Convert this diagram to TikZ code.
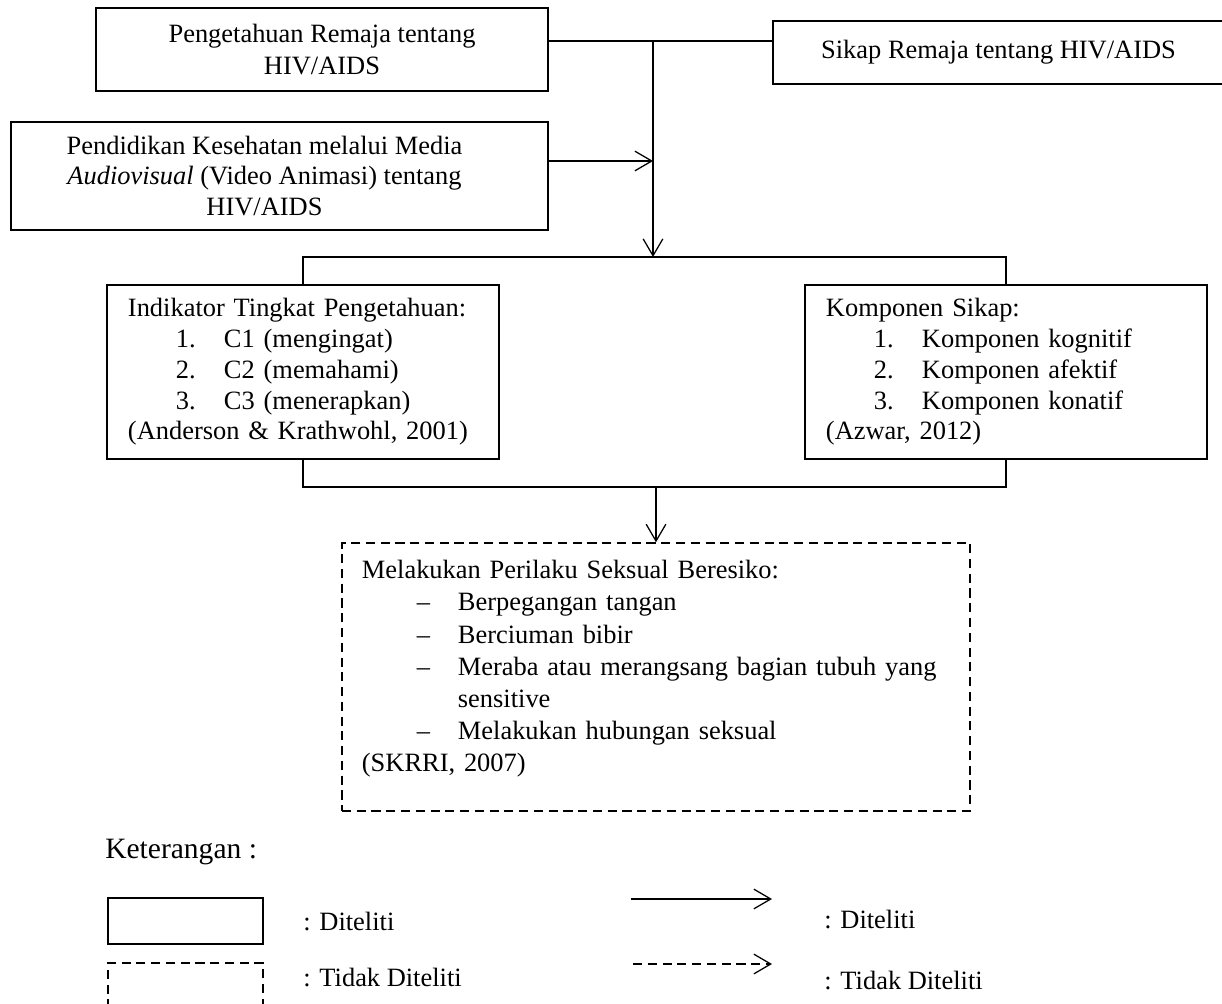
\documentclass[tikz,border=0pt]{standalone}
\usepackage{fontspec}
\setmainfont{Liberation Serif}
\usetikzlibrary{arrows.meta, positioning}

\newcommand{\numitem}[2]{\hspace*{1.2cm}\makebox[1.2cm][l]{#1}#2}
\newcommand{\dashitem}[1]{\hspace*{1.375cm}\makebox[1.025cm][l]{\textendash}#1}
\newcommand{\lpad}{\rule{0.75cm}{0pt}}

\begin{document}
\begin{tikzpicture}[x=0.025cm, y=-0.025cm,
    box/.style={rectangle, draw, line width=0.9pt, inner sep=0pt, align=center, font=\fontsize{18.8pt}{21.9pt}\selectfont},
    listbox/.style={box, align=left},
    nobox/.style={listbox, dash pattern=on 6.5pt off 4pt},
    legtext/.style={anchor=west, inner sep=0pt, font=\fontsize{18.8pt}{21.9pt}\selectfont},
    arrow/.style={-{Straight Barb[length=12pt,width=14pt]}, line width=0.9pt},
    link/.style={line width=0.9pt}
]
    \useasboundingbox (0,0) rectangle (1222,1004);
    \fill[white] (0,0) rectangle (1222,1004);

    \node[box, minimum width=11.3cm, minimum height=2.075cm, font=\fontsize{18.8pt}{22.4pt}\selectfont] (pengetahuan) at (322,49.5) {Pengetahuan Remaja tentang\\HIV/AIDS};
    \node[box, minimum width=13.425cm, minimum height=2.7cm] (pendidikan) at (279.5,176) {Pendidikan Kesehatan melalui Media\lpad\\\textit{Audiovisual} (Video Animasi) tentang\lpad\\HIV/AIDS\lpad};
    \node[box, minimum width=11.275cm, minimum height=1.575cm] (sikap) at (998.5,52.5) {Sikap Remaja tentang HIV/AIDS};

    \node[listbox, text width=8.75cm, minimum width=9.8cm, minimum height=4.35cm] (indikator) at (303,372) {Indikator Tingkat Pengetahuan:\\
        \numitem{1.}{C1 (mengingat)}\\
        \numitem{2.}{C2 (memahami)}\\
        \numitem{3.}{C3 (menerapkan)}\\
        (Anderson \& Krathwohl, 2001)};
    \node[listbox, text width=9cm, minimum width=10.05cm, minimum height=4.35cm] (komponen) at (1006,372) {Komponen Sikap:\\
        \numitem{1.}{Komponen kognitif}\\
        \numitem{2.}{Komponen afektif}\\
        \numitem{3.}{Komponen konatif}\\
        (Azwar, 2012)};
    \node[nobox, text width=14.7cm, minimum width=15.7cm, minimum height=6.7cm, font=\fontsize{18.8pt}{22.8pt}\selectfont] (perilaku) at (656,677) {Melakukan Perilaku Seksual Beresiko:\\
        \dashitem{Berpegangan tangan}\\
        \dashitem{Berciuman bibir}\\
        \dashitem{Meraba atau merangsang bagian tubuh yang}\\
        \hspace*{2.4cm}sensitive\\
        \dashitem{Melakukan hubungan seksual}\\
        (SKRRI, 2007)\\[-7pt]
        \mbox{}};

    % junctions
    \coordinate (j1) at (653,41);
    \coordinate (j2) at (653,161);
    \coordinate (j3) at (653,257);
    \coordinate (j4) at (656,487);

    \draw[link] (pengetahuan.east |- j1) -- (sikap.west |- j1);
    \draw[arrow] (j1) -- (j3);
    \draw[arrow] (pendidikan.east |- j2) -- (j2);
    \draw[link] (indikator.north) |- (j3) -| (komponen.north);
    \draw[link] (indikator.south) |- (j4) -| (komponen.south);
    \draw[arrow] (j4) -- (perilaku.north);

    % keterangan
    \node[anchor=west, inner sep=0pt, font=\fontsize{21pt}{25pt}\selectfont] (ket) at (105,852) {Keterangan :};
    \node[box, minimum width=3.875cm, minimum height=1.15cm] (legbox) at (185.5,921) {};
    \node[nobox, minimum width=3.875cm, minimum height=1.675cm] (legdash) at (185.5,996.5) {};
    \node[legtext] (legboxtxt) at (303,922) {: Diteliti};
    \node[legtext] (legdashtxt) at (303,978) {: Tidak Diteliti};

    \coordinate (la1) at (631,899);
    \coordinate (la2) at (772,899);
    \coordinate (lb1) at (633,964);
    \coordinate (lb2) at (772,964);
    \draw[arrow] (la1) -- (la2);
    \draw[arrow, dash pattern=on 6.5pt off 4pt] (lb1) -- (lb2);
    \node[legtext] (legarrowtxt) at (824,920) {: Diteliti};
    \node[legtext] (legdarrowtxt) at (824,981) {: Tidak Diteliti};
\end{tikzpicture}
\end{document}
